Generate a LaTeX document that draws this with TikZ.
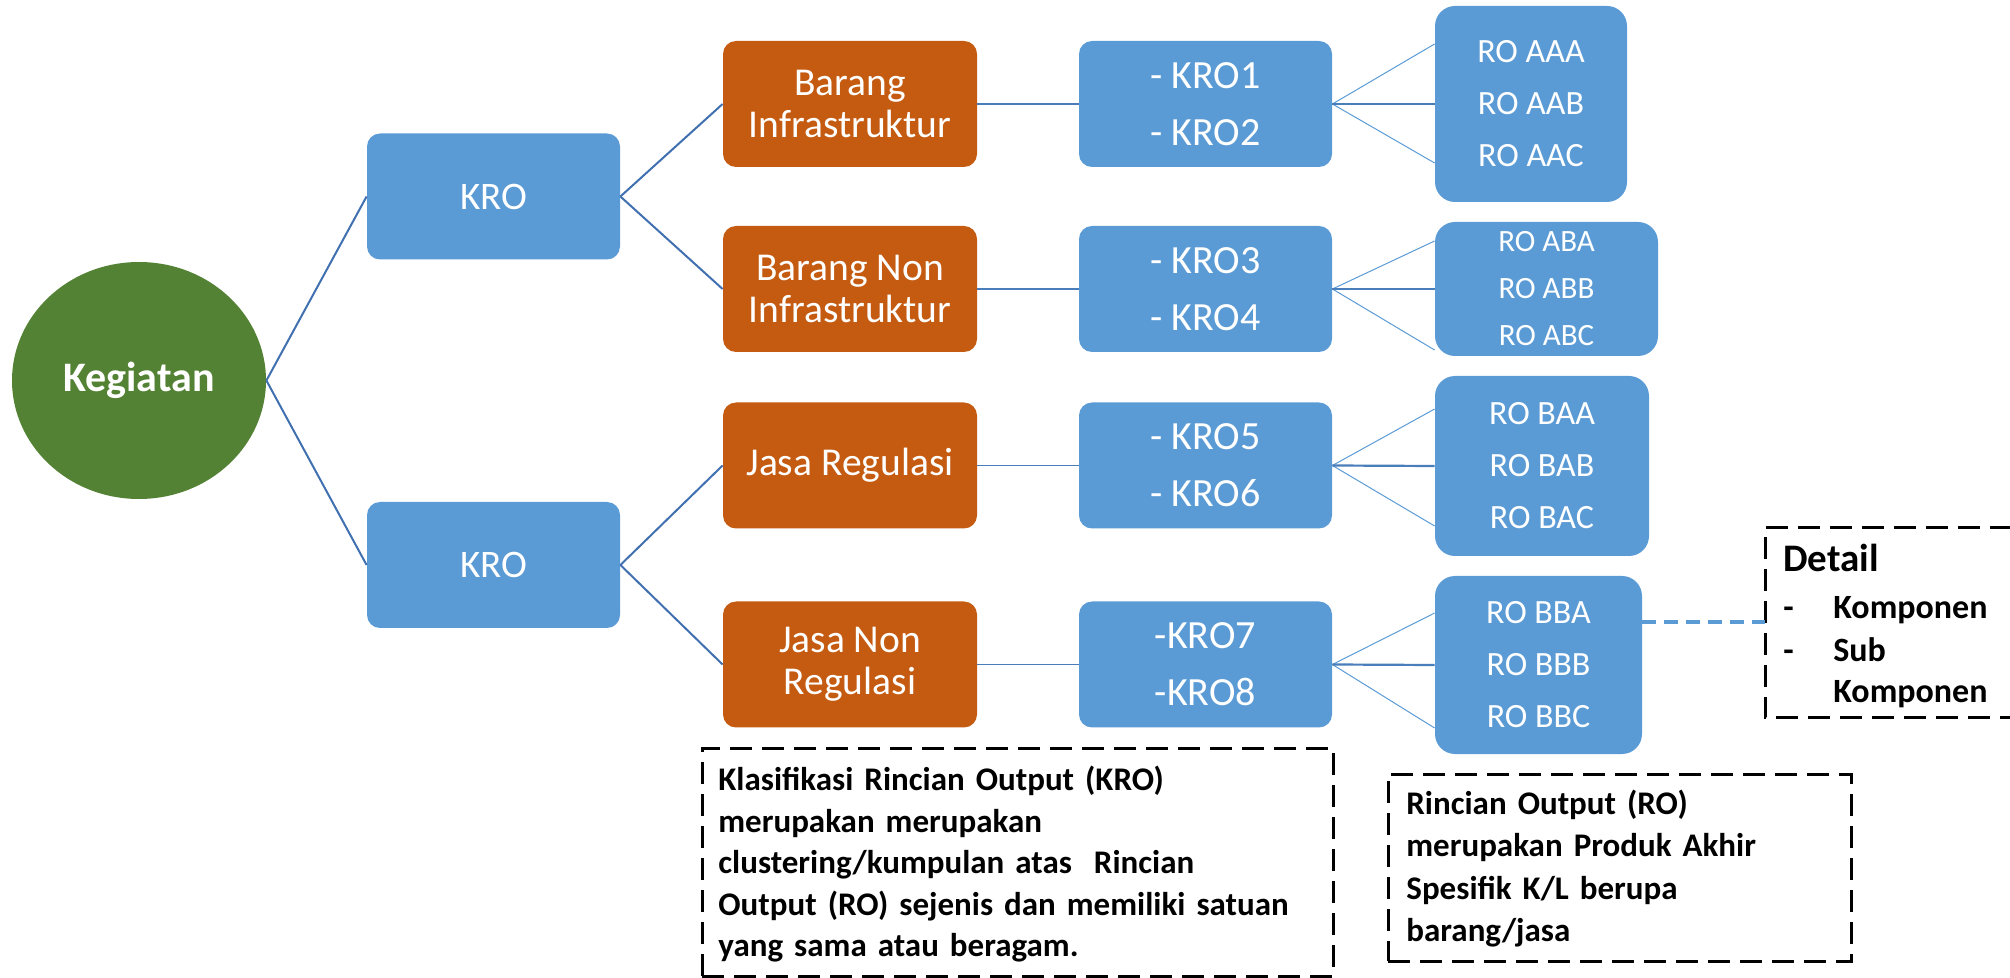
\documentclass[tikz,border=0pt]{standalone}
\usepackage{fontspec}
\setmainfont{Carlito}
\usetikzlibrary{calc, shapes.geometric}
\definecolor{roblue}{RGB}{91,155,213}
\definecolor{outorange}{RGB}{197,90,17}
\definecolor{keggreen}{RGB}{84,130,53}
\definecolor{treeblue}{RGB}{64,112,176}
\definecolor{linkblue}{RGB}{74,126,187}
\tikzset{
    box/.style={
        rectangle, rounded corners=6.5pt, inner sep=0pt, text=white, align=center,
        minimum width=126.5pt, minimum height=63pt,
        font=\fontsize{19.75}{21}\selectfont
    },
    krobox/.style={box, fill=roblue, font=\fontsize{19.5}{21}\selectfont},
    outbox/.style={box, fill=outorange, minimum width=127pt},
    listbox/.style={box, fill=roblue, font=\fontsize{20}{28.5}\selectfont},
    robox/.style={box, fill=roblue, rounded corners=10pt, font=\fontsize{17}{26}\selectfont},
    tree/.style={treeblue, line width=1pt},
    link/.style={linkblue, line width=0.85pt},
    fan/.style={roblue, line width=0.5pt},
    notebox/.style={draw=black, line width=1.5pt, dash pattern=on 11pt off 5pt},
    note/.style={anchor=base west, inner sep=0pt, align=left, text width=305pt,
        font=\bfseries\fontsize{16.5}{20.75}\selectfont},
}

\begin{document}
\begin{tikzpicture}[x=0.5pt, y=-0.5pt]
    \useasboundingbox (0,0) rectangle (2010,978);

    \node[ellipse, fill=keggreen, inner sep=0pt, minimum width=127pt, minimum height=118.5pt,
        text=white, font=\bfseries\fontsize{21}{24}\selectfont] (keg) at (139,380.5) {Kegiatan};

    \node[krobox] (kroA) at (493.5,196.5) {KRO};
    \node[krobox] (kroB) at (493.5,565) {KRO};

    \node[outbox] (brgI) at (850,104) {Barang\\Infrastruktur};
    \node[outbox] (brgN) at (850,289) {Barang Non\\Infrastruktur};
    \node[outbox] (jsR) at (850,465.5) {Jasa Regulasi};
    \node[outbox] (jsN) at (850,664.5) {Jasa Non\\Regulasi};

    \node[listbox] (lsA) at (1205.5,104) {- KRO1\\- KRO2};
    \node[listbox] (lsB) at (1205.5,289) {- KRO3\\- KRO4};
    \node[listbox] (lsC) at (1205.5,465.5) {- KRO5\\- KRO6};
    \node[listbox] (lsD) at (1205.5,664.5) {-KRO7\\-KRO8};

    \node[robox, minimum width=96pt, minimum height=98pt] (roA) at (1531,104) {RO AAA\\RO AAB\\RO AAC};
    \node[robox, minimum width=111.5pt, minimum height=67pt, font=\fontsize{15.5}{23.5}\selectfont]
        (roB) at (1546.5,289) {RO ABA\\RO ABB\\RO ABC};
    \node[robox, minimum width=107pt, minimum height=90pt] (roC) at (1542,466) {RO BAA\\RO BAB\\RO BAC};
    \node[robox, minimum width=103.5pt, minimum height=89pt] (roD) at (1538.5,665) {RO BBA\\RO BBB\\RO BBC};

    % tree
    \draw[tree] (keg.east) -- (kroA.west);
    \draw[tree] (keg.east) -- (kroB.west);
    \draw[tree] (kroA.east) -- (brgI.west);
    \draw[tree] (kroA.east) -- (brgN.west);
    \draw[tree] (kroB.east) -- (jsR.west);
    \draw[tree] (kroB.east) -- (jsN.west);

    \draw[link] (brgI.east) -- (lsA.west);
    \draw[link] (brgN.east) -- (lsB.west);
    \draw[link] (jsR.east) -- (lsC.west);
    \draw[link] (jsN.east) -- (lsD.west);

    \foreach \ls/\ro/\up/\dn in {lsA/roA/60/59, lsB/roB/48/61, lsC/roC/57/60, lsD/roD/52/63} {
        \draw[fan] (\ls.east) -- ($(\ro.west)+(0,-\up)$);
        \draw[fan] (\ls.east) -- ($(\ro.west)+(0,\dn)$);
        \draw[link, line width=1.1pt] (\ls.east) -- (\ro.west);
    }

    % notes
    \node[notebox, inner sep=0pt, minimum width=315.5pt, minimum height=114pt] (kroNote) at (1017.5,862) {};
    \node[note] (kroTxt) at (718,791) {Klasifikasi Rincian Output (KRO)\\merupakan merupakan\\clustering/kumpulan atas\ \ Rincian\\Output (RO) sejenis dan memiliki satuan\\yang sama atau beragam.};

    \node[notebox, inner sep=0pt, minimum width=231.5pt, minimum height=93.5pt] (roNote) at (1619.5,867.5) {};
    \node[note, font=\bfseries\fontsize{16.5}{21.25}\selectfont] (roTxt) at (1406,814) {Rincian Output (RO)\\merupakan Produk Akhir\\Spesifik K/L berupa\\barang/jasa};

    \coordinate (detW) at (1765,622);
    \draw[notebox] (2012,528) -- (1765,528) -- (1765,718) -- (2012,718);
    \draw[roblue, line width=1.7pt, dash pattern=on 7pt off 4pt] (roD.east |- detW) -- (detW);
    \node[note, text width=110pt, font=\bfseries\fontsize{19.5}{22}\selectfont] (detT) at (1783,572) {Detail};
    \node[note, text width=110pt, font=\bfseries\fontsize{17}{21}\selectfont] (detL) at (1783,619)
        {\makebox[25pt][l]{-}Komponen\\\makebox[25pt][l]{-}Sub\\\hspace*{25pt}Komponen};
\end{tikzpicture}
\end{document}
